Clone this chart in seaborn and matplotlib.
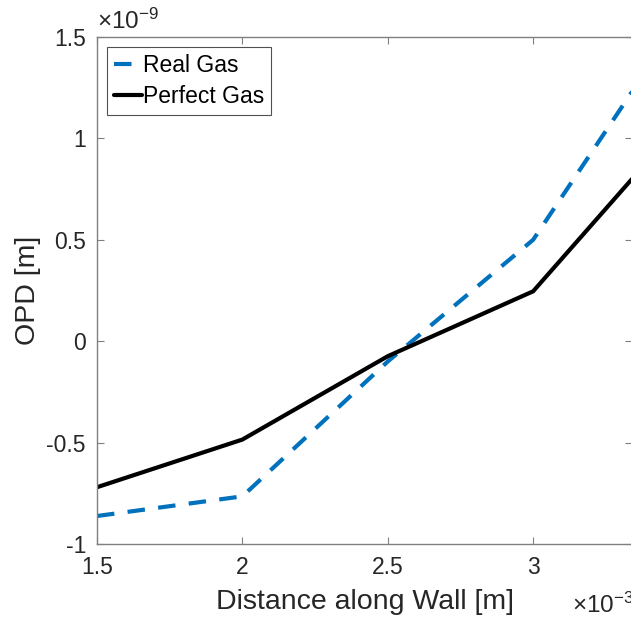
import matplotlib
matplotlib.use("Agg")
import matplotlib.pyplot as plt
import seaborn as sns
import pandas as pd

# Distance along wall (x 1e-3 m) and OPD (x 1e-9 m)
distance = [1.5, 2.0, 2.5, 3.0, 3.34]
real_gas = [-0.862, -0.765, -0.10, 0.50, 1.23]
perfect_gas = [-0.72, -0.485, -0.074, 0.246, 0.80]
series_names = ["Real Gas", "Perfect Gas"]
xticks = [1.5, 2, 2.5, 3]
yticks = [-1, -0.5, 0, 0.5, 1, 1.5]
ytick_labels = ["-1", "-0.5", "0", "0.5", "1", "1.5"]
xtick_labels = ["1.5", "2", "2.5", "3"]

sns.set_style("white")
plt.rcParams["font.family"] = ["Liberation Sans", "DejaVu Sans"]
plt.rcParams["mathtext.fontset"] = "custom"
plt.rcParams["mathtext.rm"] = "Liberation Sans"
plt.rcParams["mathtext.it"] = "Liberation Sans"

df = pd.DataFrame({
    "x": distance * 2,
    "y": real_gas + perfect_gas,
    "series": [series_names[0]] * len(distance) + [series_names[1]] * len(distance),
})

fig = plt.figure(figsize=(6.31, 6.19), dpi=100)
ax = fig.add_axes([97 / 631, 1 - 544 / 619, (632 - 97) / 631, (544 - 37) / 619])

blue = "#0072BD"
sns.lineplot(data=df[df.series == series_names[0]], x="x", y="y", ax=ax,
             color=blue, linewidth=3.0, label=series_names[0])
sns.lineplot(data=df[df.series == series_names[1]], x="x", y="y", ax=ax,
             color="black", linewidth=3.0, label=series_names[1])
ax.lines[0].set_dashes((4.2, 3.2))
ax.lines[0].set_dash_capstyle("butt")

ax.set_xlim(1.5, 3.34)
ax.set_ylim(-1, 1.5)
ax.set_xticks(xticks)
ax.set_xticklabels(xtick_labels)
ax.set_yticks(yticks)
ax.set_yticklabels(ytick_labels)

gray = "#262626"
for s in ax.spines.values():
    s.set_color("#808080")
    s.set_linewidth(1.0)
ax.tick_params(direction="in", length=5, width=0.8, colors="#808080",
               labelcolor=gray, labelsize=16.5, top=True, right=True,
               bottom=True, left=True)
ax.tick_params(axis="x", pad=9)
ax.tick_params(axis="y", pad=8)

ax.set_xlabel("Distance along Wall [m]", fontsize=20.5, color=gray, labelpad=7)
ax.set_ylabel("OPD [m]", fontsize=20.5, color=gray, labelpad=4)

fig.text(97 / 631, 1 - 29 / 619, r"$\times10^{-9}$", fontsize=17.5, color=gray,
         ha="left", va="baseline")
fig.text(572 / 631, 1 - 613 / 619, r"$\times10^{-3}$", fontsize=17.5, color=gray,
         ha="left", va="baseline")

leg = ax.legend(loc="upper left", fontsize=16.5, frameon=True, fancybox=False,
                handlelength=1.2, handletextpad=0.05, borderpad=0.3,
                labelspacing=0.35, borderaxespad=0.45)
leg.get_frame().set_edgecolor(gray)
leg.get_frame().set_linewidth(0.8)
for t in leg.get_texts():
    t.set_color("black")

fig.savefig("out.png", dpi=100)
